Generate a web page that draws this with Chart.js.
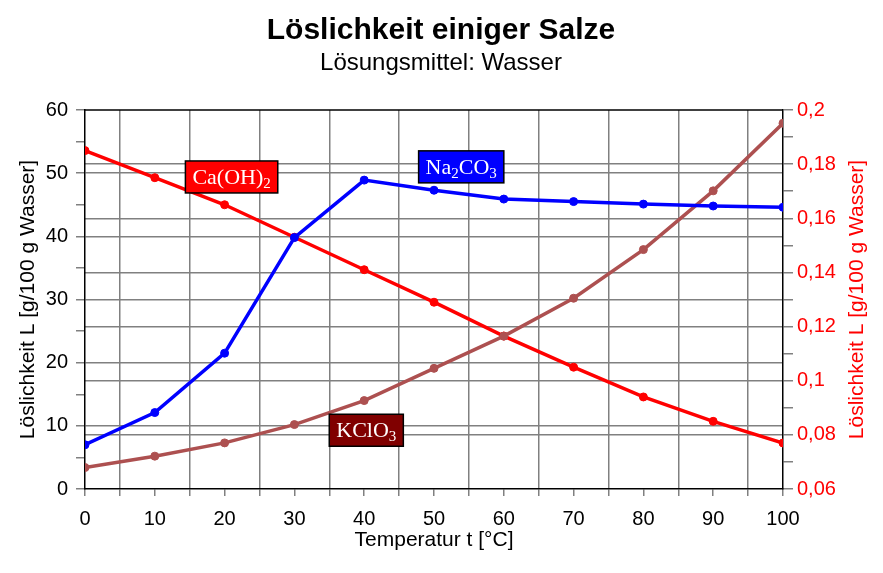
<!DOCTYPE html>
<html>
<head>
<meta charset="utf-8">
<title>Löslichkeit einiger Salze</title>
<script src="https://cdn.jsdelivr.net/npm/chart.js@4"></script>
<style>
  html, body { margin: 0; padding: 0; background: #fff; }
  #wrap { width: 883px; height: 573px; }
</style>
</head>
<body>
<div id="wrap"><canvas id="myChart" width="883" height="573"></canvas></div>
<script>
// Temperatur in °C
var temperatures = [0, 10, 20, 30, 40, 50, 60, 70, 80, 90, 100];

// Löslichkeit in g / 100 g Wasser
var na2co3 = [7.0, 12.1, 21.5, 39.8, 48.9, 47.3, 45.9, 45.5, 45.1, 44.8, 44.6];
var kclo3 = [3.4, 5.2, 7.3, 10.2, 14.0, 19.1, 24.2, 30.2, 37.9, 47.2, 57.9];
// Ca(OH)2 auf der rechten Achse
var caoh2 = [0.185, 0.175, 0.165, 0.153, 0.141, 0.129, 0.1165, 0.105, 0.094, 0.085, 0.077];

// label positions in data units (x, left axis value)
var seriesLabels = [
    { main: ['Ca(OH)', '2', ''], x: 21.0, y: 49.4, bg: '#ff0000' },
    { main: ['Na', '2', 'CO', '3'], x: 53.9, y: 51.0, bg: '#0000ff' },
    { main: ['KClO', '3'], x: 40.3, y: 9.3, bg: '#800000' }
];

var sans = "'Liberation Sans', Arial, sans-serif";
var serif = "'Liberation Serif', 'Times New Roman', serif";
var gridGray = '#808080';
var axisTitle = 'Löslichkeit L [g/100 g Wasser]';

function toPoints(values) {
    return temperatures.map(function (t, i) { return { x: t, y: values[i] }; });
}

function comma(v) {
    return String(Math.round(v * 100) / 100).replace('.', ',');
}

// title, subtitle, top frame line, right axis title and the coloured name boxes
var decorations = {
    id: 'decorations',
    afterDraw: function (chart) {
        var ctx = chart.ctx;
        var area = chart.chartArea;
        ctx.save();

        ctx.fillStyle = '#000';
        ctx.textAlign = 'center';
        ctx.textBaseline = 'middle';
        ctx.font = 'bold 30px ' + sans;
        ctx.fillText('Löslichkeit einiger Salze', 441, 31);
        ctx.font = '24px ' + sans;
        ctx.fillText('Lösungsmittel: Wasser', 441, 63);

        // right axis title, reading bottom to top like the left one
        ctx.save();
        ctx.translate(857, (area.top + area.bottom) / 2);
        ctx.rotate(-Math.PI / 2);
        ctx.fillStyle = '#ff0000';
        ctx.font = '21px ' + sans;
        ctx.fillText(axisTitle, 0, 0);
        ctx.restore();

        ctx.strokeStyle = '#000';
        ctx.lineWidth = 1.5;
        ctx.beginPath();
        ctx.moveTo(area.left, area.top);
        ctx.lineTo(area.right, area.top);
        ctx.stroke();

        var xs = chart.scales.x, ys = chart.scales.y;
        seriesLabels.forEach(function (lab) {
            var bigFont = '22px ' + serif, smallFont = '15px ' + serif;
            var w = 0;
            lab.main.forEach(function (part, i) {
                ctx.font = (i % 2 === 0) ? bigFont : smallFont;
                w += ctx.measureText(part).width;
            });
            var cx = xs.getPixelForValue(lab.x);
            var cy = ys.getPixelForValue(lab.y);
            var bw = w + 14, bh = 32;
            ctx.fillStyle = lab.bg;
            ctx.fillRect(cx - bw / 2, cy - bh / 2, bw, bh);
            ctx.strokeStyle = '#000';
            ctx.lineWidth = 1.5;
            ctx.strokeRect(cx - bw / 2, cy - bh / 2, bw, bh);
            ctx.fillStyle = '#fff';
            ctx.textAlign = 'left';
            ctx.textBaseline = 'alphabetic';
            var px = cx - w / 2;
            lab.main.forEach(function (part, i) {
                var sub = i % 2 === 1;
                ctx.font = sub ? smallFont : bigFont;
                ctx.fillText(part, px, cy + 7 + (sub ? 4 : 0));
                px += ctx.measureText(part).width;
            });
        });
        ctx.restore();
    }
};

var ctx = document.getElementById('myChart').getContext('2d');

var chart = new Chart(ctx, {
    type: 'line',
    data: {
        datasets: [{
            label: 'Na2CO3',
            data: toPoints(na2co3),
            borderColor: '#0000ff',
            backgroundColor: '#0000ff',
            yAxisID: 'y'
        }, {
            label: 'KClO3',
            data: toPoints(kclo3),
            borderColor: '#ad5050',
            backgroundColor: '#ad5050',
            yAxisID: 'y'
        }, {
            label: 'Ca(OH)2',
            data: toPoints(caoh2),
            borderColor: '#ff0000',
            backgroundColor: '#ff0000',
            yAxisID: 'y1'
        }]
    },
    options: {
        responsive: false,
        animation: false,
        layout: { padding: { top: 110, left: 0, right: 0, bottom: 0 } },
        elements: {
            line: { borderWidth: 3.5, tension: 0 },
            point: { radius: 4, hoverRadius: 4, pointStyle: 'circle' }
        },
        plugins: {
            legend: { display: false },
            title: { display: false },
            tooltip: { enabled: false }
        },
        scales: {
            x: {
                type: 'linear',
                min: 0,
                max: 100,
                afterFit: function (scale) { scale.height = 84; },
                grid: {
                    color: function (c) {
                        var v = c.tick ? c.tick.value : 0;
                        return (v % 10 === 5) ? gridGray : 'rgba(0,0,0,0)';
                    },
                    tickColor: gridGray,
                    tickLength: 7,
                    lineWidth: 1.5
                },
                border: { color: '#000', width: 1.5 },
                ticks: {
                    stepSize: 5,
                    autoSkip: false,
                    maxRotation: 0,
                    padding: 11,
                    color: '#000',
                    font: { family: sans, size: 20 },
                    callback: function (v) { return v % 10 === 0 ? String(v) : ''; }
                },
                title: {
                    display: true,
                    text: 'Temperatur t [°C]',
                    color: '#000',
                    font: { family: sans, size: 21 },
                    padding: { top: 0, bottom: 20 }
                }
            },
            y: {
                position: 'left',
                min: 0,
                max: 60,
                afterFit: function (scale) { scale.width = 85; },
                grid: {
                    color: function (c) {
                        var v = c.tick ? c.tick.value : 0;
                        return (v % 10 === 0 && v > 0 && v < 60) ? gridGray : 'rgba(0,0,0,0)';
                    },
                    tickColor: gridGray,
                    tickLength: 9,
                    lineWidth: 1.5
                },
                border: { color: '#000', width: 1.5 },
                ticks: {
                    stepSize: 5,
                    autoSkip: false,
                    padding: 8,
                    color: '#000',
                    font: { family: sans, size: 20 },
                    callback: function (v) { return v % 10 === 0 ? String(v) : ''; }
                },
                title: {
                    display: true,
                    text: axisTitle,
                    color: '#000',
                    font: { family: sans, size: 21 },
                    padding: { top: 16, bottom: 0 }
                }
            },
            y1: {
                position: 'right',
                min: 0.06,
                max: 0.2,
                afterFit: function (scale) { scale.width = 100; },
                grid: {
                    color: function (c) {
                        var n = c.tick ? Math.round(c.tick.value * 100) : 6;
                        return (n % 2 === 0 && n > 6 && n < 20) ? gridGray : 'rgba(0,0,0,0)';
                    },
                    tickColor: gridGray,
                    tickLength: 10,
                    lineWidth: 1.5
                },
                border: { color: '#000', width: 1.5 },
                ticks: {
                    stepSize: 0.01,
                    autoSkip: false,
                    padding: 4,
                    color: '#ff0000',
                    font: { family: sans, size: 20 },
                    callback: function (v) {
                        return Math.round(v * 100) % 2 === 0 ? comma(v) : '';
                    }
                },
                title: { display: false }
            }
        }
    },
    plugins: [decorations]
});
</script>
</body>
</html>
